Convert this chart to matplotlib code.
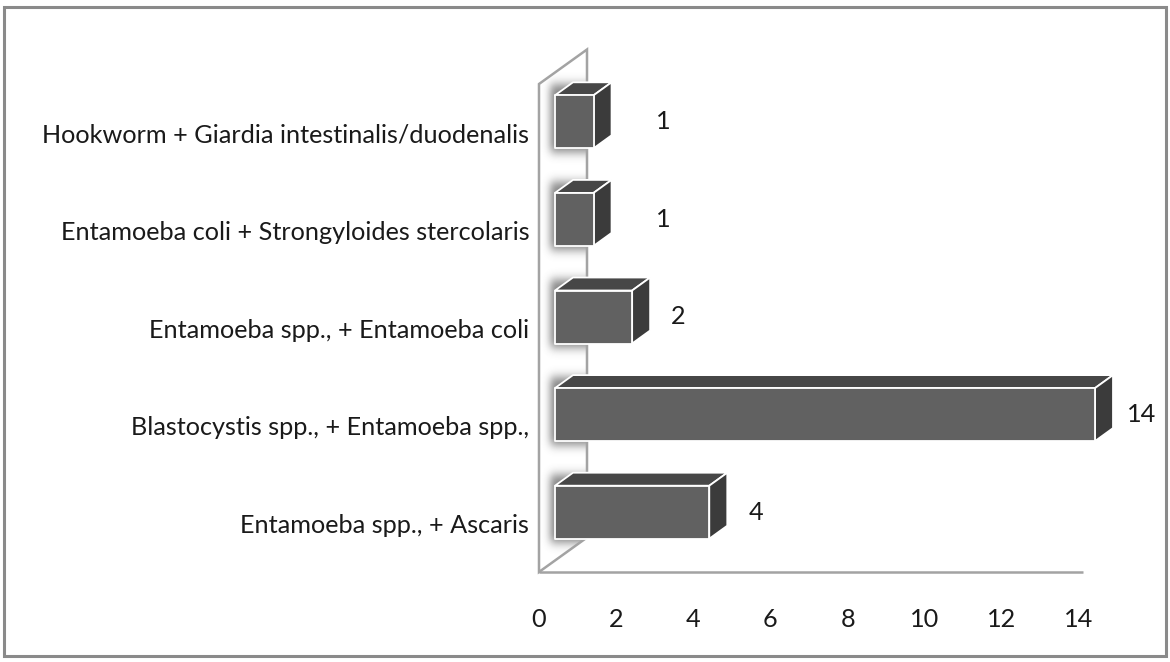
import numpy as np
import matplotlib
matplotlib.use("Agg")
import matplotlib.pyplot as plt
from matplotlib.patches import Polygon, Rectangle

# Co-infection combinations and number of cases
categories = [
    "Entamoeba spp., + Ascaris",
    "Blastocystis spp., + Entamoeba spp.,",
    "Entamoeba spp., + Entamoeba coli",
    "Entamoeba coli + Strongyloides stercolaris",
    "Hookworm + Giardia intestinalis/duodenalis",
]
counts = [4, 14, 2, 1, 1]
xticks = [0, 2, 4, 6, 8, 10, 12, 14]

plt.rcParams["font.family"] = ["Lato", "DejaVu Sans"]
FS = 18.2

W, H = 1170, 662
fig = plt.figure(figsize=(W / 100, H / 100), dpi=100)

# plot area in pixels: value axis 0..14 spans 539..1079, categories 572..84
left_px, right_px, bottom_px, top_px = 539, 1079, 572, 84
ax = fig.add_axes([left_px / W, 1 - bottom_px / H,
                   (right_px - left_px) / W, (bottom_px - top_px) / H])
xmax = 14
ax.set_xlim(0, xmax)
ax.set_ylim(-0.5, len(categories) - 0.5)
ux = xmax / (right_px - left_px)             # data units per pixel (x)
uy = len(categories) / (bottom_px - top_px)  # data units per pixel (y)

# 3-D geometry (converted from pixel offsets)
WX, WY = 48 * ux, 34.5 * uy     # side-wall depth
FX, FY = 16 * ux, 11 * uy       # front face of bars sits partway into depth
BX, BY = 18 * ux, 13 * uy       # bar depth
bh = 53 * uy                    # bar thickness

line_col = "#a3a3a3"
ytop = len(categories) - 0.5

# side wall
wall_xy = [(0, -0.5), (0, ytop), (WX, ytop + WY), (WX, -0.5 + WY)]
ax.add_patch(Polygon(wall_xy, closed=True, facecolor="white", edgecolor="none",
                     zorder=1, clip_on=False))

# soft shadow cast by bars onto the wall
wall_h_px = (ytop + WY + 0.5) / uy
nx, ny = 96, int(2 * wall_h_px)
gx = np.linspace(0, WX, nx)
gy = np.linspace(-0.5, ytop + WY, ny)
mask = np.zeros((ny, nx))
for i, v in enumerate(counts):
    y0 = i + FY - bh / 2
    y1 = i + FY + bh / 2
    rows = (gy >= y0 - 4 * uy) & (gy <= y1 + BY * 0.8)
    cols = gx >= FX * 0.7
    mask[np.ix_(rows, cols)] = 1.0


def blur(a, sigma, axis):
    r = int(3 * sigma)
    k = np.exp(-0.5 * (np.arange(-r, r + 1) / sigma) ** 2)
    k /= k.sum()
    pad = [(0, 0), (0, 0)]
    pad[axis] = (r, r)
    a = np.pad(a, pad, mode="edge")
    out = np.apply_along_axis(lambda m: np.convolve(m, k, mode="same"), axis, a)
    return out[r:-r, :] if axis == 0 else out[:, r:-r]


mask = blur(mask, 2 * 5.0, 0)
mask = blur(mask, 2 * 4.0, 1)
# keep the shadow inside the wall parallelogram
GX, GY = np.meshgrid(gx, gy)
lo = -0.5 + GX / WX * WY
hi = ytop + GX / WX * WY
mask[(GY < lo) | (GY > hi)] = 0.0
rgba = np.zeros((ny, nx, 4))
rgba[..., :3] = 0.3
rgba[..., 3] = 0.7 * mask
ax.imshow(rgba, extent=(0, WX, -0.5, ytop + WY), origin="lower",
          aspect="auto", interpolation="bilinear", zorder=1.5, clip_on=False)
ax.set_xlim(0, xmax)
ax.set_ylim(-0.5, ytop)

# wall outline above the shadow
ax.add_patch(Polygon(wall_xy, closed=True, fill=False,
                     edgecolor=line_col, lw=1.8, zorder=1.8, clip_on=False))

# floor front edge
ax.plot([0, xmax + 0.1], [-0.5, -0.5], color=line_col, lw=1.8,
        solid_capstyle="butt", zorder=2, clip_on=False)

front_c, top_c, side_c = "#616161", "#474747", "#3b3b3b"
for i, v in enumerate(counts):
    x0, x1 = FX, FX + v
    y0, y1 = i + FY - bh / 2, i + FY + bh / 2
    faces = [
        ([(x0, y1), (x1, y1), (x1 + BX, y1 + BY), (x0 + BX, y1 + BY)], top_c),
        ([(x1, y0), (x1 + BX, y0 + BY), (x1 + BX, y1 + BY), (x1, y1)], side_c),
        ([(x0, y0), (x1, y0), (x1, y1), (x0, y1)], front_c),
    ]
    for pts, c in faces:
        ax.add_patch(Polygon(pts, closed=True, facecolor=c, edgecolor="white",
                             lw=1.3, joinstyle="round", zorder=3, clip_on=False))
    # value label, kept clear of short bars' side faces
    lx = max(v, 1.6) + 1.62
    ax.text(lx, i + FY, str(v), ha="center", va="center", fontsize=FS,
            color="#1a1a1a", zorder=4, clip_on=False)

ax.set_xticks(xticks)
ax.set_xticklabels([str(t) for t in xticks], fontsize=FS, color="#1a1a1a")
ax.set_yticks(range(len(categories)))
ax.set_yticklabels(categories, fontsize=FS, color="#1a1a1a")
ax.tick_params(axis="x", length=0, pad=26)
ax.tick_params(axis="y", length=0, pad=7)
for s in ax.spines.values():
    s.set_visible(False)
ax.patch.set_visible(False)

# chart frame
fig.patches.append(Rectangle((4 / W, 1 - 656 / H), 1162 / W, 649 / H,
                             transform=fig.transFigure, fill=False,
                             edgecolor="#8a8a8a", lw=2.2))

fig.savefig("out.png", dpi=100, facecolor="white")
